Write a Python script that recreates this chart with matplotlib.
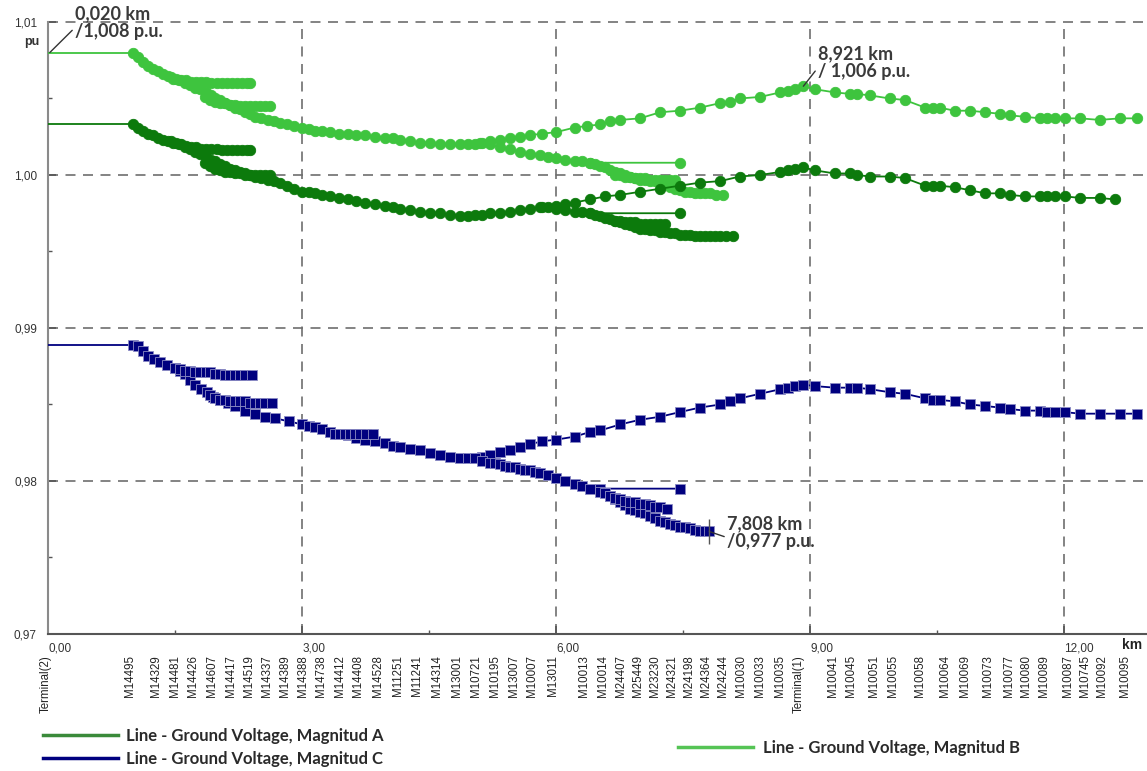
import matplotlib.pyplot as plt
from matplotlib.lines import Line2D

# ---- phase B (light green) : trunk + branches, km / p.u.
b_x = [0.00, 1.00, 1.06, 1.12, 1.18, 1.24, 1.30, 1.36, 1.42, 1.48, 1.55, 1.62, 1.68, 1.74, 1.80,
       1.86, 1.92, 1.97, 2.03, 2.09, 2.15, 2.21, 2.27, 2.33, 2.39, 2.44, 2.52, 2.60, 2.67, 2.74,
       2.82, 2.90, 3.00, 3.08, 3.15, 3.24, 3.33, 3.44, 3.54, 3.64, 3.74, 3.86, 3.98, 4.07, 4.16,
       4.28, 4.39, 4.51, 4.63, 4.75, 4.87, 4.96, 5.04, 5.12, 5.22, 5.34, 5.46, 5.57, 5.69, 5.84,
       6.00, 6.22, 6.36, 6.52, 6.64, 6.76, 6.99, 7.23, 7.46, 7.70, 7.94, 8.06, 8.17, 8.41, 8.65,
       8.74, 8.82, 8.92, 9.06, 9.29, 9.47, 9.55, 9.71, 9.94, 10.12, 10.36, 10.45, 10.53, 10.71,
       10.89, 11.07, 11.24, 11.36, 11.54, 11.72, 11.80, 11.89, 12.01, 12.19, 12.42, 12.66, 12.86]
b_y = [1.0080, 1.0080, 1.0077, 1.0074, 1.0071, 1.0069, 1.0068, 1.0066, 1.0065, 1.0063, 1.0062,
       1.0060, 1.0059, 1.0057, 1.0056, 1.0054, 1.0052, 1.0050, 1.0049, 1.0047, 1.0046, 1.0044,
       1.0043, 1.0041, 1.0040, 1.0038, 1.0037, 1.0036, 1.0035, 1.0034, 1.0033, 1.0032, 1.0031,
       1.0030, 1.0029, 1.0029, 1.0028, 1.0027, 1.0027, 1.0026, 1.0026, 1.0025, 1.0024, 1.0024,
       1.0023, 1.0022, 1.0021, 1.0021, 1.0020, 1.0020, 1.0020, 1.0020, 1.0020, 1.0021, 1.0022,
       1.0023, 1.0024, 1.0025, 1.0026, 1.0027, 1.0028, 1.0031, 1.0032, 1.0033, 1.0035, 1.0036,
       1.0037, 1.0041, 1.0042, 1.0044, 1.0047, 1.0048, 1.0050, 1.0051, 1.0054, 1.0055, 1.0056,
       1.0058, 1.0056, 1.0054, 1.0053, 1.0053, 1.0052, 1.0050, 1.0049, 1.0044, 1.0044, 1.0044,
       1.0042, 1.0042, 1.0041, 1.0040, 1.0039, 1.0038, 1.0037, 1.0037, 1.0037, 1.0037, 1.0037,
       1.0036, 1.0037, 1.0037]
b_br1_x = [1.45, 1.51, 1.57, 1.63, 1.69, 1.75, 1.81, 1.87, 1.93, 1.99, 2.05, 2.11, 2.17, 2.23,
           2.29, 2.35, 2.39]
b_br1_y = [1.0064, 1.0063, 1.0062, 1.0062, 1.0061, 1.0061, 1.0061, 1.0061, 1.0060, 1.0060,
           1.0060, 1.0060, 1.0060, 1.0060, 1.0060, 1.0060, 1.0060]
b_br2_x = [1.85, 1.91, 1.97, 2.03, 2.09, 2.15, 2.21, 2.27, 2.33, 2.39, 2.44, 2.50, 2.56, 2.62]
b_br2_y = [1.0051, 1.0049, 1.0048, 1.0047, 1.0047, 1.0046, 1.0046, 1.0045, 1.0045, 1.0045,
           1.0045, 1.0045, 1.0045, 1.0045]
b_br3_x = [5.10, 5.22, 5.34, 5.46, 5.57, 5.69, 5.81, 5.90, 6.00, 6.11, 6.22, 6.31, 6.40, 7.46]
b_br3_y = [1.0021, 1.0020, 1.0018, 1.0017, 1.0015, 1.0014, 1.0013, 1.0012, 1.0011, 1.0010,
           1.0009, 1.0009, 1.0008, 1.0008]
b_br4_x = [6.40, 6.46, 6.52, 6.58, 6.64, 6.70, 6.76, 6.82, 6.87, 6.93, 6.99, 7.05, 7.11, 7.17,
           7.23, 7.29, 7.35, 7.41, 7.46, 7.52, 7.58, 7.64, 7.70, 7.76, 7.82, 7.89, 7.97]
b_br4_y = [1.0008, 1.0007, 1.0006, 1.0005, 1.0003, 1.0002, 1.0001, 1.0000, 0.9999, 0.9998,
           0.9997, 0.9997, 0.9996, 0.9996, 0.9995, 0.9994, 0.9992, 0.9991, 0.9990, 0.9989,
           0.9989, 0.9988, 0.9988, 0.9988, 0.9988, 0.9987, 0.9987]
b_br5_x = [6.70, 6.76, 6.81, 6.87, 6.93, 6.99, 7.05, 7.11, 7.17, 7.23, 7.29, 7.35, 7.40]
b_br5_y = [1.0000, 1.0000, 0.9999, 0.9999, 0.9998, 0.9998, 0.9998, 0.9997, 0.9997, 0.9997,
           0.9997, 0.9997, 0.9997]

# ---- phase A (dark green)
a_x = [0.00, 1.00, 1.06, 1.12, 1.18, 1.24, 1.30, 1.36, 1.42, 1.48, 1.55, 1.62, 1.68, 1.74, 1.80,
       1.86, 1.92, 1.97, 2.03, 2.09, 2.15, 2.21, 2.27, 2.33, 2.39, 2.44, 2.52, 2.60, 2.67, 2.74,
       2.82, 2.90, 3.00, 3.08, 3.15, 3.24, 3.33, 3.44, 3.54, 3.64, 3.74, 3.86, 3.98, 4.07, 4.16,
       4.28, 4.39, 4.51, 4.63, 4.75, 4.87, 4.96, 5.04, 5.12, 5.22, 5.34, 5.46, 5.57, 5.69, 5.84,
       6.00, 6.11, 6.22, 6.40, 6.58, 6.76, 6.99, 7.23, 7.46, 7.70, 7.94, 8.17, 8.41, 8.65, 8.74,
       8.82, 8.92, 9.06, 9.29, 9.47, 9.55, 9.71, 9.94, 10.12, 10.36, 10.45, 10.53, 10.71, 10.89,
       11.07, 11.24, 11.36, 11.54, 11.72, 11.80, 11.89, 12.01, 12.19, 12.42, 12.60]
a_y = [1.0033, 1.0033, 1.0031, 1.0029, 1.0027, 1.0026, 1.0024, 1.0023, 1.0022, 1.0021, 1.0020,
       1.0018, 1.0017, 1.0015, 1.0014, 1.0012, 1.0010, 1.0009, 1.0007, 1.0006, 1.0004, 1.0003,
       1.0002, 1.0001, 1.0000, 0.9999, 0.9998, 0.9997, 0.9996, 0.9995, 0.9993, 0.9991, 0.9989,
       0.9989, 0.9988, 0.9987, 0.9986, 0.9985, 0.9984, 0.9983, 0.9982, 0.9981, 0.9980, 0.9979,
       0.9978, 0.9977, 0.9976, 0.9975, 0.9975, 0.9974, 0.9973, 0.9973, 0.9974, 0.9974, 0.9975,
       0.9975, 0.9976, 0.9977, 0.9978, 0.9979, 0.9980, 0.9981, 0.9982, 0.9984, 0.9986, 0.9987,
       0.9989, 0.9991, 0.9993, 0.9995, 0.9996, 0.9999, 1.0000, 1.0002, 1.0003, 1.0004, 1.0005,
       1.0003, 1.0001, 1.0001, 1.0000, 0.9999, 0.9999, 0.9998, 0.9993, 0.9993, 0.9993, 0.9992,
       0.9990, 0.9988, 0.9988, 0.9987, 0.9986, 0.9986, 0.9986, 0.9986, 0.9986, 0.9985, 0.9985,
       0.9984]
a_br1_x = [1.45, 1.51, 1.57, 1.63, 1.69, 1.75, 1.81, 1.87, 1.93, 1.99, 2.05, 2.11, 2.17, 2.23,
           2.29, 2.35, 2.39]
a_br1_y = [1.0022, 1.0021, 1.0020, 1.0019, 1.0018, 1.0018, 1.0017, 1.0017, 1.0017, 1.0017,
           1.0016, 1.0016, 1.0016, 1.0016, 1.0016, 1.0016, 1.0016]
a_br2_x = [1.85, 1.91, 1.97, 2.03, 2.09, 2.15, 2.21, 2.27, 2.33, 2.39, 2.44, 2.50, 2.56, 2.62]
a_br2_y = [1.0008, 1.0006, 1.0004, 1.0003, 1.0002, 1.0002, 1.0001, 1.0001, 1.0000, 1.0000,
           1.0000, 1.0000, 1.0000, 1.0000]
a_br3_x = [5.81, 5.90, 6.00, 6.11, 6.22, 6.31, 6.40, 7.46]
a_br3_y = [0.9979, 0.9979, 0.9978, 0.9977, 0.9976, 0.9976, 0.9975, 0.9975]
a_br4_x = [6.40, 6.46, 6.52, 6.58, 6.64, 6.70, 6.76, 6.82, 6.87, 6.93, 6.99, 7.05, 7.11, 7.17,
           7.23, 7.29, 7.35, 7.41, 7.46, 7.52, 7.58, 7.64, 7.70, 7.76, 7.82, 7.88, 7.94, 8.01, 8.09]
a_br4_y = [0.9975, 0.9974, 0.9973, 0.9972, 0.9971, 0.9970, 0.9969, 0.9968, 0.9967, 0.9966,
           0.9965, 0.9965, 0.9964, 0.9964, 0.9963, 0.9963, 0.9962, 0.9962, 0.9961, 0.9961,
           0.9961, 0.9960, 0.9960, 0.9960, 0.9960, 0.9960, 0.9960, 0.9960, 0.9960]
a_br5_x = [6.70, 6.76, 6.81, 6.87, 6.93, 6.99, 7.05, 7.11, 7.17, 7.23, 7.29]
a_br5_y = [0.9970, 0.9970, 0.9969, 0.9969, 0.9969, 0.9968, 0.9968, 0.9968, 0.9968, 0.9968, 0.9968]

# ---- phase C (navy)
c_x = [0.00, 1.00, 1.06, 1.12, 1.18, 1.25, 1.32, 1.41, 1.50, 1.56, 1.62, 1.68, 1.74, 1.81, 1.88,
       1.95, 2.03, 2.12, 2.21, 2.33, 2.44, 2.56, 2.68, 2.84, 3.00, 3.08, 3.15, 3.24, 3.33, 3.44,
       3.54, 3.64, 3.74, 3.86, 3.98, 4.07, 4.16, 4.28, 4.39, 4.51, 4.63, 4.75, 4.87, 4.96, 5.04,
       5.12, 5.22, 5.34, 5.46, 5.57, 5.69, 5.84, 6.00, 6.22, 6.40, 6.52, 6.76, 6.99, 7.23, 7.46,
       7.70, 7.94, 8.06, 8.17, 8.41, 8.65, 8.74, 8.82, 8.92, 9.06, 9.29, 9.47, 9.55, 9.71, 9.94,
       10.12, 10.36, 10.45, 10.53, 10.71, 10.89, 11.07, 11.24, 11.36, 11.54, 11.72, 11.80, 11.89,
       12.01, 12.19, 12.42, 12.66, 12.86]
c_y = [0.9889, 0.9889, 0.9888, 0.9885, 0.9882, 0.9880, 0.9878, 0.9876, 0.9874, 0.9872, 0.9870,
       0.9866, 0.9863, 0.9860, 0.9858, 0.9855, 0.9853, 0.9851, 0.9849, 0.9846, 0.9844, 0.9842,
       0.9841, 0.9839, 0.9837, 0.9836, 0.9835, 0.9834, 0.9832, 0.9831, 0.9830, 0.9828, 0.9827,
       0.9826, 0.9825, 0.9823, 0.9822, 0.9821, 0.9820, 0.9818, 0.9817, 0.9816, 0.9815, 0.9815,
       0.9815, 0.9816, 0.9817, 0.9819, 0.9820, 0.9822, 0.9824, 0.9826, 0.9827, 0.9829, 0.9832,
       0.9833, 0.9837, 0.9840, 0.9842, 0.9845, 0.9848, 0.9850, 0.9852, 0.9854, 0.9857, 0.9860,
       0.9861, 0.9862, 0.9863, 0.9862, 0.9861, 0.9861, 0.9861, 0.9860, 0.9858, 0.9857, 0.9854,
       0.9853, 0.9853, 0.9852, 0.9850, 0.9849, 0.9848, 0.9847, 0.9846, 0.9846, 0.9845, 0.9845,
       0.9845, 0.9844, 0.9844, 0.9844, 0.9844]
c_br1_x = [1.50, 1.56, 1.62, 1.68, 1.74, 1.80, 1.86, 1.91, 1.97, 2.03, 2.09, 2.15, 2.21, 2.27,
           2.33, 2.41]
c_br1_y = [0.9874, 0.9873, 0.9872, 0.9872, 0.9871, 0.9871, 0.9871, 0.9871, 0.9870, 0.9870,
           0.9869, 0.9869, 0.9869, 0.9869, 0.9869, 0.9869]
c_br2_x = [1.91, 1.97, 2.03, 2.09, 2.15, 2.21, 2.27, 2.33, 2.39, 2.44, 2.50, 2.56, 2.65]
c_br2_y = [0.9856, 0.9854, 0.9853, 0.9853, 0.9852, 0.9852, 0.9852, 0.9852, 0.9851, 0.9851,
           0.9851, 0.9851, 0.9851]
c_br3_x = [3.33, 3.39, 3.45, 3.51, 3.57, 3.63, 3.68, 3.76, 3.84]
c_br3_y = [0.9832, 0.9831, 0.9831, 0.9831, 0.9831, 0.9831, 0.9831, 0.9831, 0.9831]
c_br4_x = [5.04, 5.12, 5.22, 5.28, 5.34, 5.40, 5.46, 5.52, 5.57, 5.63, 5.69, 5.75, 5.81, 5.90,
           6.00, 6.11, 6.22, 6.31, 6.40, 6.52, 7.46]
c_br4_y = [0.9815, 0.9813, 0.9812, 0.9812, 0.9811, 0.9810, 0.9809, 0.9809, 0.9808, 0.9807,
           0.9807, 0.9806, 0.9805, 0.9804, 0.9802, 0.9800, 0.9798, 0.9797, 0.9795, 0.9795, 0.9795]
c_br5_x = [6.52, 6.58, 6.64, 6.70, 6.76, 6.82, 6.87, 6.93, 6.99, 7.05, 7.11, 7.17, 7.23, 7.29,
           7.35, 7.41, 7.46, 7.52, 7.58, 7.64, 7.70, 7.76, 7.81]
c_br5_y = [0.9793, 0.9792, 0.9790, 0.9788, 0.9786, 0.9784, 0.9782, 0.9781, 0.9780, 0.9779,
           0.9777, 0.9776, 0.9774, 0.9773, 0.9772, 0.9771, 0.9770, 0.9770, 0.9769, 0.9768,
           0.9767, 0.9767, 0.9767]
c_br6_x = [6.64, 6.70, 6.76, 6.82, 6.87, 6.93, 6.99, 7.05, 7.11, 7.17, 7.23, 7.31]
c_br6_y = [0.9790, 0.9789, 0.9788, 0.9787, 0.9786, 0.9786, 0.9785, 0.9785, 0.9784, 0.9783,
           0.9783, 0.9782]

# node labels under the axis
node_names = ['Terminal(2)', 'M14495', 'M14329', 'M14481', 'M14426', 'M14607', 'M14417', 'M14519',
              'M14337', 'M14389', 'M14388', 'M14738', 'M14412', 'M14408', 'M14528', 'M11251',
              'M11241', 'M14314', 'M13001', 'M10721', 'M10195', 'M13007', 'M10007', 'M13011',
              'M10013', 'M10014', 'M24407', 'M25449', 'M23230', 'M24321', 'M24198', 'M24364',
              'M24244', 'M10030', 'M10033', 'M10035', 'Terminal(1)', 'M10041', 'M10045', 'M10051',
              'M10055', 'M10058', 'M10064', 'M10069', 'M10073', 'M10077', 'M10080', 'M10089',
              'M10087', 'M10745', 'M10092', 'M10095']
node_km = [-0.03, 0.97, 1.28, 1.50, 1.71, 1.94, 2.16, 2.37, 2.59, 2.80, 3.01, 3.22, 3.45, 3.66,
           3.90, 4.13, 4.36, 4.59, 4.83, 5.05, 5.28, 5.50, 5.72, 5.96, 6.33, 6.55, 6.77, 6.97,
           7.17, 7.37, 7.57, 7.77, 7.97, 8.18, 8.41, 8.65, 8.87, 9.27, 9.48, 9.76, 9.98, 10.30,
           10.59, 10.83, 11.10, 11.35, 11.55, 11.76, 12.05, 12.25, 12.45, 12.72]

# annotated points
ann_km = [0.020, 8.921, 7.808]
ann_pu = [1.0080, 1.0058, 0.9767]
ann_txt = ['0,020 km\n/1,008 p.u.', '8,921 km\n/ 1,006 p.u.', '7,808 km\n/0,977 p.u.']

col_a = '#0c7a0c'
col_b = '#3ec43e'
col_c = '#00007f'

fig = plt.figure(figsize=(11.47, 7.71), dpi=100)
ax = fig.add_axes([0.0419, 0.1777, 0.9581, 0.7938])


def draw(xs, ys, col, mk, trunk=False):
    kw = dict(marker=mk, ms=7.5, mfc=col, mec=col, mew=0.6)
    if mk == 's':
        kw.update(ms=7, mec='#8c8cc4')
    if trunk:
        ax.plot(xs[:2], ys[:2], color=col, lw=1.3, zorder=3)
        ax.plot(xs[1:], ys[1:], color=col, lw=1.3, zorder=3, **kw)
    else:
        ax.plot(xs, ys, color=col, lw=1.3, zorder=3, **kw)


draw(b_x, b_y, col_b, 'o', trunk=True)
for bx, by in [(b_br1_x, b_br1_y), (b_br2_x, b_br2_y), (b_br3_x, b_br3_y),
               (b_br4_x, b_br4_y), (b_br5_x, b_br5_y)]:
    draw(bx, by, col_b, 'o')
draw(a_x, a_y, col_a, 'o', trunk=True)
for bx, by in [(a_br1_x, a_br1_y), (a_br2_x, a_br2_y), (a_br3_x, a_br3_y),
               (a_br4_x, a_br4_y), (a_br5_x, a_br5_y)]:
    draw(bx, by, col_a, 'o')
draw(c_x, c_y, col_c, 's', trunk=True)
for bx, by in [(c_br1_x, c_br1_y), (c_br2_x, c_br2_y), (c_br3_x, c_br3_y),
               (c_br4_x, c_br4_y), (c_br5_x, c_br5_y), (c_br6_x, c_br6_y)]:
    draw(bx, by, col_c, 's')

ax.set_xlim(0, 12.98)
ax.set_ylim(0.97, 1.01)

ax.set_xticks([0, 3, 6, 9, 12])
ax.set_xticks([1.5, 4.5, 7.5, 10.5], minor=True)
ax.set_xticklabels(['0,00', '3,00', '6,00', '9,00', '12,00'], ha='left')
ax.set_yticks([0.97, 0.98, 0.99, 1.00, 1.01])
ax.set_yticks([0.975, 0.985, 0.995, 1.005], minor=True)
ax.set_yticklabels(['0,97', '0,98', '0,99', '1,00', '1,01'])
ax.tick_params(axis='both', which='major', direction='in', length=6, width=1.2,
               color='#555555', labelsize=8.5, labelcolor='#333333')
ax.tick_params(axis='both', which='minor', direction='in', length=3, width=1, color='#555555')
ax.tick_params(axis='x', pad=6)
ax.tick_params(axis='y', pad=8)
for lab in ax.get_xticklabels() + ax.get_yticklabels():
    lab.set_family('Liberation Sans')

ax.grid(True, which='major', color='#6e6e6e', lw=1.2, linestyle=(0, (6, 4.5)))
for gl in ax.get_ygridlines() + ax.get_xgridlines():
    gl.set_clip_on(False)
ax.set_axisbelow(True)

for s in ['top', 'right']:
    ax.spines[s].set_visible(False)
ax.spines['left'].set_color('#8a8a8a')
ax.spines['left'].set_linewidth(1.5)
ax.spines['bottom'].set_color('#555555')
ax.spines['bottom'].set_linewidth(1.5)

ax.text(-0.0145, 0.967, 'pu', transform=ax.transAxes, ha='center', va='center',
        fontsize=9, fontweight='bold', color='#333333', family='Liberation Sans')
ax.text(0.986, -0.018, 'km', transform=ax.transAxes, ha='center', va='center',
        fontsize=10, fontweight='bold', color='#222222', family='Liberation Sans')

for name, km in zip(node_names, node_km):
    ax.text(km, -0.034, name, transform=ax.get_xaxis_transform(), rotation=90,
            ha='center', va='top', fontsize=8.3, color='#222222', family='Liberation Sans')

# annotations with leader lines
txt_pos = [(75, 766), (818, 726), (727, 256)]
for km, pu, t, (px, py) in zip(ann_km, ann_pu, ann_txt, txt_pos):
    ax.annotate(t, xy=(km, pu), xytext=(px, py), textcoords='figure pixels',
                ha='left', va='top', fontsize=13, fontweight='bold', color='#3a3a3a',
                family='Lato', linespacing=1.05,
                arrowprops=dict(arrowstyle='-', color='#333333', lw=1.0,
                                relpos=(0.0, 0.35), shrinkA=0, shrinkB=0))
ax.vlines(ann_km[2], ann_pu[2] - 0.0008, ann_pu[2] + 0.0008, color='#555555', lw=1, zorder=4)

# legends
hA = Line2D([], [], color='#3a8a3a', lw=2.5)
hC = Line2D([], [], color=col_c, lw=2.5)
hB = Line2D([], [], color='#55c455', lw=2.5)
leg1 = fig.legend([hA, hC], ['Line - Ground Voltage, Magnitud A', 'Line - Ground Voltage, Magnitud C'],
                  loc='upper left', bbox_to_anchor=(43 / 1147, 1 - 728 / 771), frameon=False,
                  handlelength=4.5, handletextpad=0.45, labelspacing=0.42, borderpad=0,
                  borderaxespad=0, prop=dict(family='Lato', weight='bold', size=12))
leg2 = fig.legend([hB], ['Line - Ground Voltage, Magnitud B'],
                  loc='upper left', bbox_to_anchor=(678 / 1147, 1 - 740 / 771), frameon=False,
                  handlelength=4.5, handletextpad=0.6, borderpad=0, borderaxespad=0,
                  prop=dict(family='Lato', weight='bold', size=12))
for leg in (leg1, leg2):
    for t in leg.get_texts():
        t.set_color('#2a2a2a')

fig.savefig('out.png', dpi=100)
